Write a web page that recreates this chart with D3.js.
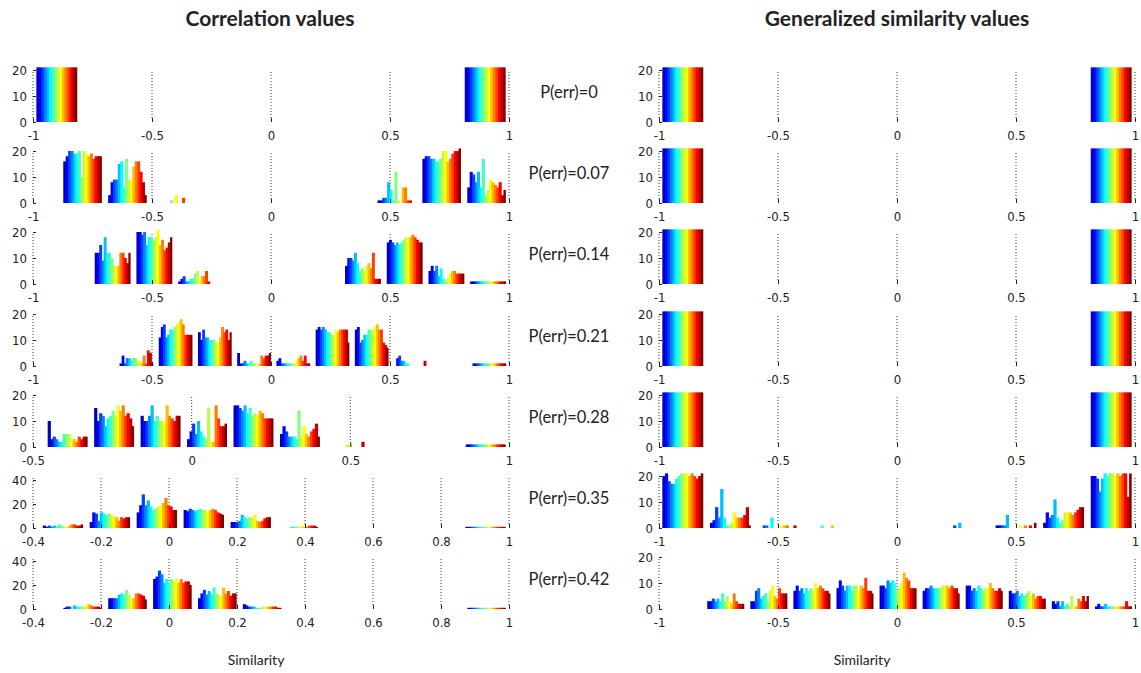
<!DOCTYPE html>
<html>
<head>
<meta charset="utf-8">
<script src="https://cdn.jsdelivr.net/npm/d3@7"></script>
<style>
  body { margin: 0; background: #fff; }
  .axis text { font-family: "Liberation Sans Narrow", "DejaVu Sans Condensed", "Liberation Sans", Arial, sans-serif; font-size: 13px; fill: #222; }
  .axis line { stroke: #222; }
  .title { font-family: Lato, "Open Sans", sans-serif; font-size: 21px; font-weight: 700; fill: #222; }
  .err { font-family: Lato, "Open Sans", sans-serif; font-size: 16.5px; fill: #222; }
  .xlabel { font-family: Lato, "Open Sans", sans-serif; font-size: 14px; fill: #222; }
</style>
</head>
<body>
<svg id="chart" width="1141" height="673"></svg>
<script>

// panel labels (one per row)
var errLabels = ["P(err)=0", "P(err)=0.07", "P(err)=0.14", "P(err)=0.21", "P(err)=0.28", "P(err)=0.35", "P(err)=0.42"];

// left column: correlation values
var corrDomains = [[-1, 1], [-1, 1], [-1, 1], [-1, 1], [-0.5, 1], [-0.4, 1], [-0.4, 1]];
var corrTicks = [
  [-1, -0.5, 0, 0.5, 1], [-1, -0.5, 0, 0.5, 1], [-1, -0.5, 0, 0.5, 1], [-1, -0.5, 0, 0.5, 1],
  [-0.5, 0, 0.5, 1],
  [-0.4, -0.2, 0, 0.2, 0.4, 0.6, 0.8, 1], [-0.4, -0.2, 0, 0.2, 0.4, 0.6, 0.8, 1]
];
var corrYTicks = [[0, 10, 20], [0, 10, 20], [0, 10, 20], [0, 10, 20], [0, 10, 20], [0, 20, 40], [0, 20, 40]];
// lowest and highest histogram edge, 10 bins in between
var corrBinRanges = [[-1, 1], [-0.886, 1], [-0.753, 1], [-0.648, 1], [-0.464, 1], [-0.381, 1], [-0.32, 1]];

// right column: generalized similarity values
var gsimDomains = [[-1, 1], [-1, 1], [-1, 1], [-1, 1], [-1, 1], [-1, 1], [-1, 1]];
var gsimTicks = [-1, -0.5, 0, 0.5, 1];
var gsimYTicks = [0, 10, 20];
var gsimBinRanges = [[-1, 1], [-1, 1], [-1, 1], [-1, 1], [-1, 1], [-1, 1], [-0.81, 1]];

// counts per bin, 16 series per bin (empty bins are [])
var corr000 = [
  [21,21,21,21,21,21,21,21,21,21,21,21,21,21,21,21],
  [], [], [], [], [], [], [], [],
  [21,21,21,21,21,21,21,21,21,21,21,21,21,21,21,21]
];
var corr007 = [
  [16,18,20,20,19,19,20,10,20,19,18,19,17,18,18,18],
  [3,8,9,9,15,16,6,17,9,9,14,16,16,12,8,3],
  [0,0,0,0,0,0,0,1,0,3,0,0,2,0,0,0],
  [], [], [], [],
  [1,1,2,2,8,5,1,12,1,0,6,6,1,1,0,0],
  [17,18,18,17,17,16,16,17,20,20,16,17,19,20,20,21],
  [6,12,11,8,12,6,17,3,5,9,8,7,6,8,3,5]
];
var corr014 = [
  [12,12,15,9,18,12,12,10,7,7,7,12,12,10,8,12],
  [20,20,19,20,15,18,18,17,18,21,15,17,13,14,16,18],
  [1,2,3,1,1,2,2,4,5,1,3,3,5,1,0,0],
  [], [], [],
  [7,10,10,9,12,8,5,6,5,7,8,6,12,2,2,2],
  [16,17,16,15,16,15,16,17,18,18,18,19,18,17,16,16],
  [5,7,5,7,3,6,2,1,2,4,5,5,4,4,4,4],
  [1,1,1,1,1,1,1,1,1,1,1,1,1,1,1,1]
];
var corr021 = [
  [1,4,1,3,3,2,3,3,2,2,1,4,1,6,5,1],
  [11,15,16,11,12,14,14,15,16,17,18,16,12,12,12,12],
  [13,10,14,11,11,10,10,10,9,9,11,15,13,14,10,13],
  [5,1,1,2,1,1,2,1,1,0,1,4,3,4,4,5],
  [2,3,1,1,1,1,1,1,1,2,3,4,2,4,1,1],
  [14,15,14,15,14,13,13,12,12,14,13,14,14,14,14,9],
  [14,15,9,10,12,12,14,14,14,15,16,14,14,9,8,7],
  [0,3,4,2,2,1,1,0,0,0,0,0,0,0,2,0],
  [],
  [1,1,1,1,1,1,1,1,1,1,1,1,1,1,1,1]
];
var corr028 = [
  [10,3,4,3,2,2,5,5,5,3,3,2,4,3,4,4],
  [15,10,13,12,8,11,12,14,12,16,14,16,12,13,11,8],
  [12,10,10,12,16,10,12,10,10,10,16,12,11,10,12,12],
  [3,6,9,5,10,6,4,3,15,2,2,16,11,8,8,9],
  [16,16,15,14,16,13,15,12,13,12,14,13,11,11,11,11],
  [5,8,6,4,4,4,3,14,4,8,5,4,6,7,9,4],
  [0,0,0,0,0,0,0,0,1,1,0,0,0,0,2,0],
  [], [],
  [1,1,1,1,1,1,1,1,1,1,1,1,1,1,1,1]
];
var corr035 = [
  [2,1,2,1,2,1,3,2,1,1,2,3,3,2,2,3],
  [5,13,12,6,13,12,11,12,11,10,9,6,9,8,9,9],
  [13,19,28,19,23,18,15,16,18,19,21,25,19,18,15,15],
  [15,14,16,15,14,15,16,15,15,14,15,16,15,13,12,11],
  [5,5,5,6,11,9,8,9,9,11,6,5,6,8,9,9],
  [0,0,0,0,0,1,1,1,1,2,1,1,2,2,2,1],
  [], [], [],
  [1,1,1,1,1,1,1,1,1,1,1,1,1,1,1,1]
];
var corr042 = [
  [1,2,2,0,3,2,2,2,2,3,4,3,2,2,2,1],
  [9,9,9,9,12,13,12,16,12,8,9,13,13,12,11,8],
  [25,27,32,29,22,25,22,25,23,25,22,25,22,23,23,20],
  [9,13,16,12,15,12,18,13,12,11,18,13,15,11,13,13],
  [4,3,2,2,2,1,1,1,2,2,2,2,2,2,1,1],
  [], [], [], [],
  [1,1,1,1,1,1,1,1,1,1,1,1,1,1,1,1]
];

var gsim000 = [
  [21,21,21,21,21,21,21,21,21,21,21,21,21,21,21,21],
  [], [], [], [], [], [], [], [],
  [21,21,21,21,21,21,21,21,21,21,21,21,21,21,21,21]
];
var gsim007 = gsim000, gsim014 = gsim000, gsim021 = gsim000, gsim028 = gsim000;
var gsim035 = [
  [20,21,18,17,17,19,20,21,21,21,20,21,20,19,20,21],
  [2,3,8,4,15,4,1,1,2,6,4,4,4,5,8,1],
  [0,0,1,1,0,4,0,0,0,1,1,1,0,0,1,0],
  [0,0,0,0,0,0,1,0,0,0,1,0,0,0,0,0],
  [], [],
  [0,0,1,0,2,0,0,0,0,0,0,0,0,0,0,0],
  [1,1,1,1,5,0,0,0,0,1,0,1,0,1,0,2],
  [2,6,4,5,11,4,2,3,6,6,6,5,6,7,8,8],
  [20,20,19,14,19,21,20,21,21,20,21,20,21,21,12,21]
];
var gsim042 = [
  [3,3,4,3,4,3,6,3,5,3,2,6,3,2,2,2],
  [3,3,7,8,4,5,6,3,7,9,5,4,8,6,6,6],
  [7,9,7,8,6,8,7,8,7,10,8,9,8,7,7,6],
  [8,11,9,7,9,9,7,9,9,7,9,8,12,7,7,6],
  [9,9,8,11,10,11,10,7,8,10,14,12,11,8,8,8],
  [7,8,8,9,8,8,8,8,9,9,9,8,9,8,8,6],
  [9,9,7,8,7,9,8,7,8,8,10,8,7,7,8,7],
  [7,6,6,7,5,6,5,6,7,5,6,4,5,5,4,4],
  [3,2,3,1,3,1,2,1,5,1,1,4,3,5,3,5],
  [1,2,1,1,2,1,1,1,1,1,1,1,1,3,1,1]
];

var corrCounts = [corr000, corr007, corr014, corr021, corr028, corr035, corr042];
var gsimCounts = [gsim000, gsim007, gsim014, gsim021, gsim028, gsim035, gsim042];

// matlab jet(16)
var jet16 = ["#0000bf", "#0000ff", "#0040ff", "#0080ff", "#00bfff", "#00ffff", "#40ffbf", "#80ff80",
             "#bfff40", "#ffff00", "#ffbf00", "#ff8000", "#ff4000", "#ff0000", "#bf0000", "#800000"];

var colX = [[33, 509], [659, 1135]];
var rowBase = [122, 203, 284, 366, 447, 528, 609];
var groupFrac = 0.86;

var svg = d3.select("#chart");

function draw_panel(col, row, domain, ticks, yTicks, binRange, counts) {
  var base = rowBase[row];
  var yTop = yTicks[yTicks.length - 1];
  var x = d3.scaleLinear().domain(domain).range(colX[col]);
  var y = d3.scaleLinear().domain([0, yTop]).range([base, base - (yTop > 20 ? 48 : 52)]);

  var g = svg.append("g");

  // dotted grid at the x ticks
  g.selectAll(".grid")
   .data(ticks)
   .enter().append("line")
   .attr("x1", function(d) { return x(d); })
   .attr("x2", function(d) { return x(d); })
   .attr("y1", base - 4)
   .attr("y2", base - 50)
   .attr("stroke", "#333")
   .attr("stroke-dasharray", "1,2");

  // histogram bars, grouped per bin
  var binW = (binRange[1] - binRange[0]) / 10;
  var groupW = binW * groupFrac;
  var bars = [];
  counts.forEach(function(bin, k) {
    var center = binRange[0] + (k + 0.5) * binW;
    bin.forEach(function(v, i) {
      if (v > 0) {
        bars.push({x0: center - groupW / 2 + i * groupW / bin.length,
                   x1: center - groupW / 2 + (i + 1) * groupW / bin.length,
                   v: v, c: jet16[i], last: i == bin.length - 1});
      }
    });
  });
  g.selectAll(".bar")
   .data(bars)
   .enter().append("rect")
   .attr("x", function(d) { return x(d.x0); })
   .attr("width", function(d) { return x(d.x1) - x(d.x0) + (d.last ? 0 : 0.7); })
   .attr("y", function(d) { return y(d.v); })
   .attr("height", function(d) { return base - y(d.v); })
   .style("fill", function(d) { return d.c; });

  // x axis: labels and short inward ticks
  var xAxis = g.append("g")
     .attr("class", "axis")
     .attr("transform", "translate(0," + base + ")")
     .call(d3.axisBottom(x).tickValues(ticks).tickSize(-4).tickPadding(9)
           .tickFormat(function(d) { return String(d); }));
  xAxis.select(".domain").remove();

  var yAxis = g.append("g")
     .attr("class", "axis")
     .attr("transform", "translate(" + colX[col][0] + ",0)")
     .call(d3.axisLeft(y).tickValues(yTicks).tickSize(-3).tickPadding(6));
  yAxis.select(".domain").remove();
}

for (var r = 0; r < 7; r++) {
  draw_panel(0, r, corrDomains[r], corrTicks[r], corrYTicks[r], corrBinRanges[r], corrCounts[r]);
  draw_panel(1, r, gsimDomains[r], gsimTicks, gsimYTicks, gsimBinRanges[r], gsimCounts[r]);

  svg.append("text")
     .attr("class", "err")
     .attr("x", 569)
     .attr("y", rowBase[r] - 30)
     .attr("dy", "0.35em")
     .style("text-anchor", "middle")
     .text(errLabels[r]);
}

// titles
svg.append("text").attr("class", "title").attr("x", 270).attr("y", 26)
   .style("text-anchor", "middle").text("Correlation values");
svg.append("text").attr("class", "title").attr("x", 897).attr("y", 26)
   .style("text-anchor", "middle").text("Generalized similarity values");

// axis labels
svg.append("text").attr("class", "xlabel").attr("x", 256).attr("y", 665)
   .style("text-anchor", "middle").text("Similarity");
svg.append("text").attr("class", "xlabel").attr("x", 862).attr("y", 665)
   .style("text-anchor", "middle").text("Similarity");

</script>
</body>
</html>
